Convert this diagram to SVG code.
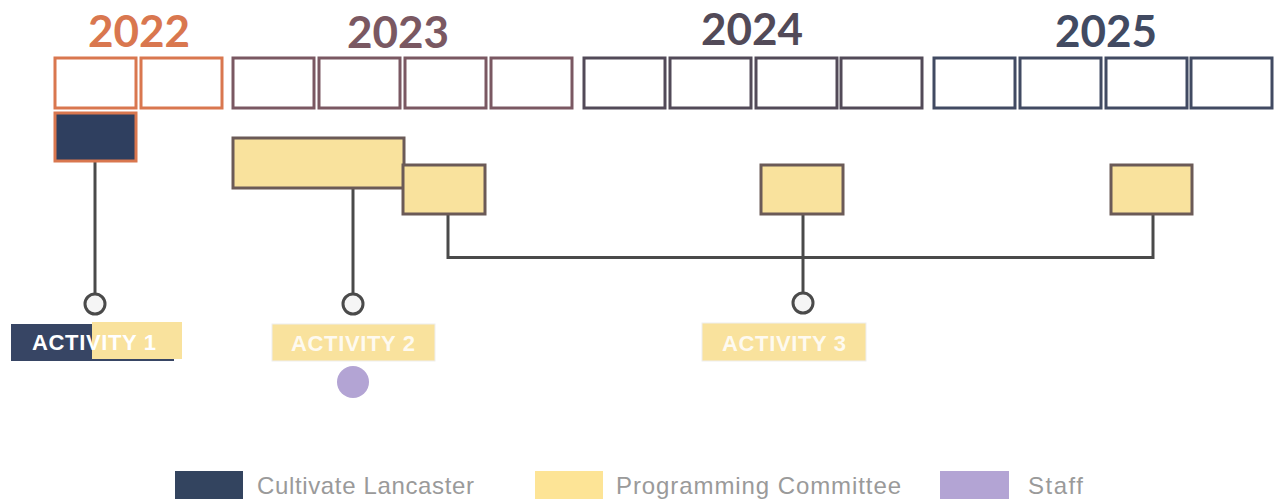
<svg xmlns="http://www.w3.org/2000/svg" width="1275" height="499" viewBox="0 0 1275 499">
  <style>
    .year { font-family: Lato, "Liberation Sans", sans-serif; font-weight: 700; font-size: 44px; text-anchor: middle; }
    .slot { fill: #ffffff; stroke-width: 3; }
    .y22 { stroke: #d9774f; }
    .y23 { stroke: #7a5862; }
    .y24 { stroke: #524a58; }
    .y25 { stroke: #414a62; }
    .task { fill: #f9e29d; stroke: #6b5a57; stroke-width: 3; }
    .wire { fill: none; stroke: #4a4a4a; stroke-width: 3; }
    .pin { fill: #f5f5f5; stroke: #4a4a4a; stroke-width: 3; }
    .tag { fill: #f9e29d; stroke: #eeeeee; stroke-width: 1; }
    .tagtext { font-family: "Liberation Sans", Arial, sans-serif; font-weight: 700; font-size: 22px; fill: #ffffff; text-anchor: middle; }
    .legend { font-family: "Liberation Sans", Arial, sans-serif; font-size: 24px; fill: #9a9a9a; }
  </style>

  <!-- Year headings -->
  <g id="years">
    <text class="year" x="139" y="47" fill="#d9774f">2022</text>
    <text class="year" x="398" y="48" fill="#7a5862">2023</text>
    <text class="year" x="752" y="45" fill="#524a58">2024</text>
    <text class="year" x="1106" y="47" fill="#414a62">2025</text>
  </g>

  <!-- Quarter slots -->
  <g id="slots">
    <rect class="slot y22" x="55" y="58" width="81" height="50"/>
    <rect class="slot y22" x="141" y="58" width="81" height="50"/>
    <rect class="slot y23" x="233" y="58" width="81" height="50"/>
    <rect class="slot y23" x="319" y="58" width="81" height="50"/>
    <rect class="slot y23" x="405" y="58" width="81" height="50"/>
    <rect class="slot y23" x="491" y="58" width="81" height="50"/>
    <rect class="slot y24" x="584" y="58" width="81" height="50"/>
    <rect class="slot y24" x="670" y="58" width="81" height="50"/>
    <rect class="slot y24" x="756" y="58" width="81" height="50"/>
    <rect class="slot y24" x="841" y="58" width="81" height="50"/>
    <rect class="slot y25" x="934" y="58" width="81" height="50"/>
    <rect class="slot y25" x="1020" y="58" width="81" height="50"/>
    <rect class="slot y25" x="1106" y="58" width="81" height="50"/>
    <rect class="slot y25" x="1191" y="58" width="81" height="50"/>
  </g>

  <!-- Connectors -->
  <g id="connectors">
    <path class="wire" d="M95 161 V293"/>
    <path class="wire" d="M353 188 V293"/>
    <path class="wire" d="M448 215 V257.5 H1153 V215"/>
    <path class="wire" d="M803 215 V293"/>
  </g>

  <!-- Work blocks -->
  <g id="block-cultivate">
    <rect x="55" y="113" width="81" height="48" fill="#2f3f5f" stroke="#d9774f" stroke-width="3"/>
  </g>
  <g id="block-program-a">
    <rect class="task" x="233" y="138" width="171" height="50"/>
  </g>
  <g id="block-program-b">
    <rect class="task" x="403" y="165" width="82" height="49"/>
  </g>
  <g id="block-program-c">
    <rect class="task" x="761" y="165" width="82" height="49"/>
  </g>
  <g id="block-program-d">
    <rect class="task" x="1111" y="165" width="81" height="49"/>
  </g>

  <!-- Milestone pins -->
  <g id="pin-1"><circle class="pin" cx="95" cy="304" r="10"/></g>
  <g id="pin-2"><circle class="pin" cx="353" cy="304" r="10"/></g>
  <g id="pin-3"><circle class="pin" cx="803" cy="303" r="10"/></g>

  <!-- Activity labels -->
  <g id="activity-1">
    <rect x="11" y="324" width="163" height="37" fill="#374564"/>
    <rect x="92" y="322" width="90" height="37" fill="#f9e29d"/>
    <text class="tagtext" x="94" y="350" textLength="124">ACTIVITY 1</text>
  </g>
  <g id="activity-2">
    <rect class="tag" x="272" y="324" width="163" height="37"/>
    <text class="tagtext" x="353" y="351" opacity="0.85" textLength="124">ACTIVITY 2</text>
    <circle cx="353" cy="382" r="16" fill="#b3a4d4"/>
  </g>
  <g id="activity-3">
    <rect class="tag" x="702" y="323" width="164" height="38"/>
    <text class="tagtext" x="784" y="351" opacity="0.85" textLength="124">ACTIVITY 3</text>
  </g>

  <!-- Legend -->
  <g id="legend">
    <rect x="175" y="471" width="68" height="30" fill="#33445f"/>
    <text class="legend" x="257" y="494" textLength="217">Cultivate Lancaster</text>
    <rect x="535" y="471" width="68" height="30" fill="#fde496"/>
    <text class="legend" x="616" y="494" textLength="285">Programming Committee</text>
    <rect x="940" y="471" width="69" height="30" fill="#b3a4d4"/>
    <text class="legend" x="1028" y="494" textLength="55">Staff</text>
  </g>
</svg>
